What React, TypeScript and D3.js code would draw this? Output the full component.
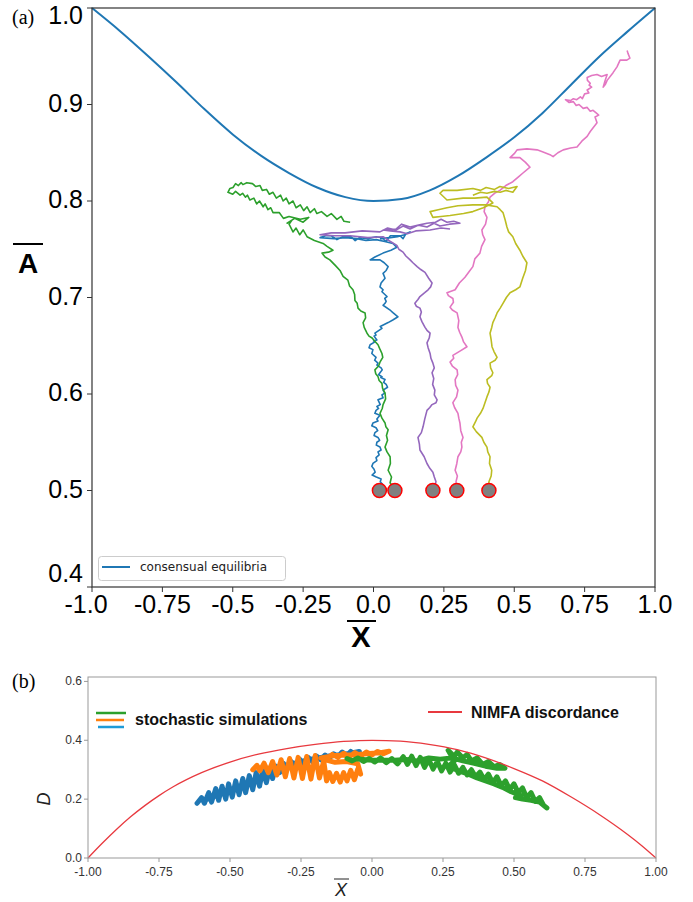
import React from "react";
import * as d3 from "d3";

// ---------- Panel (a) data ----------
const aXTicks = [-1, -0.75, -0.5, -0.25, 0, 0.25, 0.5, 0.75, 1];
const aXTickLabels = ["-1.0", "-0.75", "-0.5", "-0.25", "0.0", "0.25", "0.5", "0.75", "1.0"];
const aYTicks = [0.4, 0.5, 0.6, 0.7, 0.8, 0.9, 1.0];
const aYTickLabels = ["0.4", "0.5", "0.6", "0.7", "0.8", "0.9", "1.0"];

const consensusX = [-1, -0.9, -0.8, -0.7, -0.6, -0.5, -0.4, -0.3, -0.2, -0.1, 0, 0.1, 0.2, 0.3, 0.4, 0.5, 0.6, 0.7, 0.8, 0.9, 1];
const consensusA = [1.0, 0.976, 0.950, 0.923, 0.895, 0.869, 0.847, 0.829, 0.814, 0.804, 0.800, 0.802, 0.811, 0.826, 0.845, 0.866, 0.891, 0.920, 0.949, 0.975, 1.0];

const walkBlue: [number, number][] = [[0.021,0.500],[0.034,0.506],[0.024,0.509],[0.027,0.512],[0.010,0.514],[-0.005,0.516],[0.006,0.519],[0.002,0.522],[-0.006,0.525],[-0.002,0.528],[0.012,0.531],[0.009,0.534],[0.020,0.537],[0.016,0.540],[0.027,0.542],[0.023,0.545],[0.010,0.547],[0.012,0.550],[0.022,0.552],[0.016,0.555],[0.002,0.557],[0.005,0.560],[0.015,0.562],[0.009,0.565],[-0.006,0.567],[-0.002,0.570],[0.016,0.572],[0.012,0.574],[0.023,0.578],[0.005,0.580],[0.009,0.583],[0.018,0.585],[0.012,0.587],[0.024,0.589],[0.016,0.594],[0.034,0.596],[0.030,0.599],[0.040,0.601],[0.034,0.604],[0.050,0.607],[0.045,0.610],[0.036,0.612],[0.041,0.615],[0.026,0.617],[0.030,0.618],[0.018,0.620],[0.023,0.622],[0.031,0.625],[0.027,0.627],[0.012,0.630],[0.016,0.632],[0.004,0.635],[0.009,0.638],[-0.006,0.642],[-0.002,0.646],[-0.016,0.648],[-0.012,0.651],[0.005,0.654],[0.000,0.655],[0.012,0.656],[0.002,0.660],[0.009,0.661],[0.005,0.663],[0.030,0.668],[0.024,0.670],[0.052,0.674],[0.070,0.677],[0.087,0.680],[0.070,0.684],[0.066,0.685],[0.059,0.687],[0.034,0.692],[0.041,0.694],[0.045,0.696],[0.040,0.699],[0.048,0.701],[0.030,0.706],[0.034,0.708],[0.023,0.711],[0.027,0.715],[0.041,0.720],[0.034,0.725],[0.045,0.728],[0.052,0.732],[0.038,0.736],[0.023,0.739],[-0.012,0.739],[0.005,0.742],[0.034,0.746],[0.062,0.749],[0.083,0.752],[0.069,0.756],[0.040,0.758],[0.010,0.760],[-0.027,0.759],[-0.060,0.761],[-0.100,0.762],[-0.140,0.761],[-0.190,0.762],[-0.170,0.764],[-0.150,0.764],[-0.130,0.760],[-0.110,0.763],[-0.080,0.763],[-0.065,0.759],[-0.050,0.762],[-0.020,0.761],[0.010,0.763],[0.030,0.762],[0.045,0.758],[0.060,0.764],[0.094,0.764],[0.105,0.761],[0.115,0.766],[0.130,0.768],[0.110,0.765],[0.085,0.763],[0.060,0.762],[0.023,0.761]];

const walkGreen: [number, number][] = [[0.076,0.500],[0.059,0.508],[0.064,0.514],[0.052,0.521],[0.060,0.528],[0.059,0.535],[0.048,0.540],[0.041,0.545],[0.050,0.552],[0.046,0.557],[0.052,0.563],[0.044,0.566],[0.041,0.570],[0.030,0.575],[0.023,0.580],[0.031,0.585],[0.034,0.589],[0.043,0.595],[0.041,0.601],[0.032,0.606],[0.030,0.611],[0.020,0.614],[0.016,0.618],[0.008,0.621],[0.005,0.625],[0.018,0.629],[0.023,0.633],[0.033,0.638],[0.030,0.642],[0.022,0.647],[0.016,0.651],[0.004,0.655],[-0.005,0.658],[-0.016,0.660],[-0.023,0.663],[-0.033,0.669],[-0.037,0.674],[-0.028,0.679],[-0.030,0.684],[-0.045,0.686],[-0.055,0.689],[-0.058,0.694],[-0.066,0.697],[-0.067,0.703],[-0.073,0.708],[-0.085,0.712],[-0.091,0.718],[-0.108,0.722],[-0.119,0.728],[-0.135,0.733],[-0.155,0.739],[-0.172,0.742],[-0.183,0.746],[-0.160,0.747],[-0.144,0.749],[-0.165,0.753],[-0.179,0.756],[-0.210,0.759],[-0.236,0.763],[-0.250,0.770],[-0.262,0.765],[-0.275,0.772],[-0.286,0.768],[-0.300,0.776],[-0.290,0.780],[-0.307,0.777],[-0.280,0.782],[-0.250,0.778],[-0.230,0.783],[-0.260,0.781],[-0.300,0.784],[-0.320,0.782],[-0.335,0.788],[-0.357,0.788],[-0.365,0.793],[-0.375,0.791],[-0.385,0.797],[-0.392,0.794],[-0.405,0.800],[-0.415,0.797],[-0.425,0.803],[-0.439,0.801],[-0.448,0.806],[-0.455,0.804],[-0.465,0.808],[-0.474,0.806],[-0.490,0.810],[-0.500,0.807],[-0.517,0.809],[-0.510,0.813],[-0.499,0.814],[-0.490,0.818],[-0.480,0.816],[-0.470,0.819],[-0.464,0.817],[-0.450,0.819],[-0.430,0.818],[-0.418,0.815],[-0.403,0.816],[-0.395,0.811],[-0.380,0.812],[-0.370,0.807],[-0.357,0.809],[-0.345,0.803],[-0.330,0.806],[-0.321,0.800],[-0.310,0.803],[-0.300,0.797],[-0.286,0.800],[-0.275,0.793],[-0.260,0.796],[-0.248,0.790],[-0.236,0.794],[-0.225,0.788],[-0.210,0.792],[-0.201,0.787],[-0.185,0.789],[-0.165,0.784],[-0.150,0.787],[-0.130,0.781],[-0.115,0.784],[-0.105,0.779],[-0.083,0.778]];

const walkPurple: [number, number][] = [[0.211,0.500],[0.222,0.509],[0.216,0.514],[0.211,0.519],[0.200,0.523],[0.190,0.528],[0.180,0.535],[0.165,0.542],[0.163,0.548],[0.158,0.555],[0.170,0.560],[0.176,0.566],[0.182,0.574],[0.190,0.583],[0.200,0.586],[0.208,0.589],[0.222,0.591],[0.226,0.594],[0.216,0.599],[0.218,0.604],[0.210,0.610],[0.214,0.616],[0.208,0.622],[0.216,0.627],[0.211,0.632],[0.204,0.637],[0.201,0.642],[0.194,0.648],[0.190,0.653],[0.198,0.658],[0.201,0.663],[0.190,0.666],[0.183,0.669],[0.172,0.675],[0.165,0.680],[0.170,0.685],[0.165,0.689],[0.152,0.691],[0.147,0.694],[0.158,0.698],[0.165,0.701],[0.182,0.705],[0.194,0.708],[0.203,0.711],[0.208,0.715],[0.196,0.720],[0.183,0.726],[0.168,0.729],[0.155,0.732],[0.140,0.736],[0.130,0.739],[0.115,0.743],[0.105,0.747],[0.090,0.750],[0.083,0.754],[0.060,0.758],[0.034,0.763],[-0.020,0.762],[-0.083,0.764],[-0.140,0.764],[-0.190,0.765],[-0.150,0.767],[-0.101,0.767],[-0.040,0.769],[0.023,0.768],[0.050,0.772],[0.080,0.770],[0.105,0.774],[0.130,0.771],[0.160,0.775],[0.190,0.773],[0.215,0.777],[0.236,0.774],[0.270,0.776],[0.307,0.777],[0.285,0.779],[0.261,0.778],[0.240,0.781],[0.220,0.778],[0.190,0.777],[0.160,0.775],[0.130,0.773],[0.100,0.776],[0.080,0.771],[0.034,0.770],[0.060,0.769],[0.094,0.768],[0.120,0.766],[0.150,0.769],[0.201,0.770],[0.240,0.772],[0.272,0.771]];

const walkPink: [number, number][] = [[0.296,0.500],[0.293,0.509],[0.298,0.515],[0.290,0.521],[0.296,0.528],[0.300,0.535],[0.310,0.540],[0.314,0.545],[0.312,0.550],[0.318,0.555],[0.310,0.562],[0.307,0.570],[0.303,0.575],[0.300,0.580],[0.288,0.586],[0.282,0.591],[0.295,0.597],[0.300,0.604],[0.292,0.609],[0.290,0.615],[0.299,0.620],[0.297,0.625],[0.280,0.629],[0.272,0.633],[0.285,0.637],[0.282,0.640],[0.310,0.645],[0.332,0.649],[0.320,0.654],[0.314,0.659],[0.306,0.664],[0.300,0.669],[0.303,0.676],[0.297,0.684],[0.280,0.687],[0.272,0.690],[0.284,0.695],[0.282,0.699],[0.266,0.702],[0.261,0.705],[0.290,0.708],[0.305,0.715],[0.325,0.721],[0.340,0.727],[0.353,0.732],[0.360,0.740],[0.378,0.746],[0.384,0.753],[0.396,0.760],[0.388,0.765],[0.385,0.770],[0.398,0.776],[0.403,0.783],[0.393,0.789],[0.396,0.794],[0.408,0.799],[0.414,0.804],[0.430,0.808],[0.449,0.811],[0.470,0.816],[0.495,0.820],[0.515,0.825],[0.531,0.829],[0.556,0.835],[0.540,0.840],[0.520,0.845],[0.485,0.845],[0.500,0.849],[0.510,0.853],[0.545,0.854],[0.581,0.853],[0.600,0.851],[0.627,0.848],[0.638,0.846],[0.655,0.850],[0.674,0.853],[0.700,0.855],[0.723,0.856],[0.740,0.862],[0.759,0.867],[0.770,0.872],[0.794,0.881],[0.787,0.887],[0.800,0.889],[0.792,0.891],[0.780,0.894],[0.770,0.893],[0.759,0.897],[0.745,0.896],[0.730,0.900],[0.720,0.899],[0.710,0.903],[0.695,0.902],[0.682,0.905],[0.700,0.904],[0.710,0.906],[0.722,0.905],[0.735,0.908],[0.742,0.906],[0.750,0.911],[0.765,0.912],[0.759,0.915],[0.775,0.918],[0.766,0.920],[0.770,0.922],[0.760,0.925],[0.759,0.928],[0.775,0.930],[0.794,0.931],[0.810,0.929],[0.830,0.931],[0.822,0.924],[0.816,0.918],[0.824,0.921],[0.830,0.925],[0.851,0.933],[0.865,0.939],[0.876,0.946],[0.900,0.946],[0.911,0.948],[0.904,0.953],[0.901,0.956]];

const walkOlive: [number, number][] = [[0.410,0.500],[0.410,0.509],[0.418,0.515],[0.420,0.521],[0.412,0.528],[0.414,0.535],[0.406,0.540],[0.403,0.545],[0.392,0.550],[0.385,0.555],[0.365,0.561],[0.353,0.566],[0.362,0.571],[0.368,0.575],[0.380,0.580],[0.389,0.585],[0.396,0.591],[0.403,0.597],[0.410,0.602],[0.414,0.607],[0.405,0.611],[0.403,0.615],[0.420,0.619],[0.424,0.622],[0.416,0.627],[0.414,0.632],[0.432,0.635],[0.439,0.638],[0.428,0.644],[0.421,0.649],[0.418,0.656],[0.414,0.663],[0.420,0.669],[0.424,0.674],[0.432,0.679],[0.439,0.684],[0.450,0.689],[0.460,0.694],[0.472,0.700],[0.485,0.705],[0.505,0.708],[0.520,0.711],[0.530,0.720],[0.540,0.728],[0.545,0.736],[0.530,0.743],[0.520,0.749],[0.505,0.756],[0.495,0.763],[0.480,0.768],[0.474,0.773],[0.468,0.780],[0.460,0.788],[0.450,0.791],[0.439,0.794],[0.400,0.796],[0.353,0.796],[0.300,0.795],[0.261,0.793],[0.230,0.791],[0.201,0.789],[0.211,0.783],[0.240,0.784],[0.272,0.785],[0.320,0.787],[0.353,0.789],[0.390,0.793],[0.424,0.798],[0.403,0.804],[0.360,0.803],[0.318,0.803],[0.261,0.801],[0.236,0.808],[0.247,0.811],[0.297,0.811],[0.353,0.813],[0.380,0.811],[0.400,0.814],[0.430,0.812],[0.449,0.815],[0.480,0.813],[0.510,0.815],[0.495,0.809],[0.470,0.811],[0.450,0.809],[0.430,0.810],[0.403,0.808],[0.380,0.809],[0.353,0.806]];

const walksA = [
  { name: "blue", color: "#1f77b4", pts: walkBlue },
  { name: "green", color: "#2ca02c", pts: walkGreen },
  { name: "purple", color: "#9467bd", pts: walkPurple },
  { name: "pink", color: "#e377c2", pts: walkPink },
  { name: "olive", color: "#bcbd22", pts: walkOlive },
];

// ---------- Panel (b) data ----------
const bXTicks = [-1, -0.75, -0.5, -0.25, 0, 0.25, 0.5, 0.75, 1];
const bXTickLabels = ["-1.00", "-0.75", "-0.50", "-0.25", "0.00", "0.25", "0.50", "0.75", "1.00"];
const bYTicks = [0, 0.2, 0.4, 0.6];
const bYTickLabels = ["0.0", "0.2", "0.4", "0.6"];

const nimfaX = [-1, -0.95, -0.9, -0.85, -0.8, -0.75, -0.7, -0.6, -0.5, -0.4, -0.3, -0.2, -0.1, 0, 0.1, 0.2, 0.3, 0.4, 0.5, 0.6, 0.7, 0.8, 0.9, 0.95, 1];
const nimfaD = [0, 0.050, 0.097, 0.140, 0.178, 0.212, 0.242, 0.290, 0.326, 0.353, 0.372, 0.386, 0.396, 0.400, 0.397, 0.386, 0.368, 0.340, 0.304, 0.262, 0.208, 0.148, 0.080, 0.042, 0];

const stochBlue: [number, number][] = [[-0.616,0.186],[-0.600,0.205],[-0.590,0.186],[-0.575,0.222],[-0.565,0.190],[-0.550,0.236],[-0.540,0.196],[-0.528,0.244],[-0.515,0.200],[-0.505,0.252],[-0.492,0.207],[-0.480,0.262],[-0.468,0.215],[-0.455,0.270],[-0.445,0.222],[-0.432,0.280],[-0.420,0.232],[-0.408,0.290],[-0.396,0.244],[-0.385,0.298],[-0.372,0.256],[-0.360,0.306],[-0.350,0.270],[-0.338,0.312],[-0.325,0.290],[-0.312,0.322],[-0.300,0.300],[-0.285,0.328],[-0.270,0.312],[-0.255,0.336],[-0.240,0.320],[-0.225,0.342],[-0.210,0.328],[-0.195,0.346],[-0.180,0.334],[-0.165,0.350],[-0.150,0.340],[-0.135,0.354],[-0.120,0.344],[-0.105,0.360],[-0.090,0.348],[-0.075,0.362],[-0.060,0.350],[-0.045,0.362],[-0.080,0.355],[-0.150,0.347],[-0.220,0.335],[-0.300,0.315],[-0.360,0.290],[-0.420,0.262],[-0.480,0.238],[-0.540,0.214],[-0.590,0.196]];

const stochOrange: [number, number][] = [[-0.420,0.300],[-0.405,0.315],[-0.395,0.296],[-0.380,0.322],[-0.365,0.290],[-0.350,0.328],[-0.335,0.282],[-0.320,0.334],[-0.305,0.276],[-0.290,0.338],[-0.275,0.272],[-0.260,0.342],[-0.245,0.270],[-0.230,0.345],[-0.215,0.268],[-0.200,0.348],[-0.185,0.272],[-0.170,0.330],[-0.160,0.262],[-0.150,0.290],[-0.138,0.260],[-0.125,0.288],[-0.112,0.258],[-0.100,0.290],[-0.088,0.262],[-0.075,0.298],[-0.062,0.266],[-0.050,0.302],[-0.040,0.285],[-0.050,0.320],[-0.090,0.328],[-0.130,0.325],[-0.170,0.335],[-0.150,0.345],[-0.140,0.352],[-0.120,0.342],[-0.100,0.356],[-0.080,0.344],[-0.060,0.358],[-0.040,0.346],[-0.020,0.360],[0.000,0.350],[0.020,0.362],[0.040,0.354],[0.060,0.363],[0.030,0.358],[-0.010,0.355],[-0.050,0.352],[-0.090,0.350],[-0.130,0.348],[-0.180,0.340]];

const stochGreen: [number, number][] = [[-0.088,0.338],[-0.070,0.330],[-0.050,0.340],[-0.030,0.328],[-0.010,0.338],[0.010,0.326],[0.030,0.340],[0.050,0.324],[0.070,0.338],[0.090,0.320],[0.110,0.344],[0.125,0.318],[0.140,0.346],[0.155,0.314],[0.170,0.342],[0.185,0.308],[0.200,0.335],[0.215,0.302],[0.230,0.328],[0.245,0.296],[0.260,0.322],[0.275,0.292],[0.290,0.316],[0.305,0.288],[0.320,0.308],[0.335,0.282],[0.350,0.300],[0.365,0.276],[0.380,0.292],[0.395,0.266],[0.410,0.285],[0.425,0.255],[0.440,0.276],[0.455,0.245],[0.470,0.262],[0.485,0.232],[0.500,0.252],[0.515,0.222],[0.530,0.238],[0.545,0.205],[0.560,0.222],[0.575,0.192],[0.590,0.205],[0.605,0.178],[0.616,0.170],[0.590,0.190],[0.560,0.196],[0.530,0.200],[0.505,0.205],[0.525,0.212],[0.490,0.225],[0.460,0.240],[0.430,0.252],[0.400,0.262],[0.370,0.272],[0.340,0.285],[0.300,0.298],[0.270,0.312],[0.290,0.330],[0.268,0.366],[0.290,0.345],[0.300,0.360],[0.320,0.340],[0.335,0.352],[0.350,0.330],[0.370,0.340],[0.390,0.318],[0.410,0.328],[0.430,0.310],[0.450,0.318],[0.468,0.305],[0.440,0.305],[0.400,0.312],[0.360,0.322],[0.320,0.330],[0.280,0.340],[0.240,0.336],[0.200,0.340],[0.160,0.330],[0.120,0.335],[0.080,0.332],[0.040,0.333],[0.000,0.332],[-0.050,0.336]];

const stochWalks = [
  { color: "#1f77b4", pts: stochBlue },
  { color: "#ff7f0e", pts: stochOrange },
  { color: "#2ca02c", pts: stochGreen },
];

const SANS = "'Liberation Sans', Arial, sans-serif";

export default function App() {
  // Panel (a) scales
  const ax = d3.scaleLinear().domain([-1, 1]).range([92, 655]);
  const ay = d3.scaleLinear().domain([0.4, 1.0]).range([587, 8]);
  const aLine = d3.line<[number, number]>().x((d) => ax(d[0])).y((d) => ay(d[1]));
  const consensusPts: [number, number][] = consensusX.map((x, i) => [x, consensusA[i]]);
  const consensusPath = d3
    .line<[number, number]>()
    .x((d) => ax(d[0]))
    .y((d) => ay(d[1]))
    .curve(d3.curveMonotoneX)(consensusPts);

  // y tick label nudges (top and bottom labels sit inside the frame as in the reference)
  const aYLabelShift = (t: number) => (t === 1.0 ? 7 : t === 0.4 ? -14 : -2);

  // Panel (b) scales
  const bx = d3.scaleLinear().domain([-1, 1]).range([88, 656]);
  const by = d3.scaleLinear().domain([0, 0.615]).range([858, 677]);
  const bLine = d3.line<[number, number]>().x((d) => bx(d[0])).y((d) => by(d[1]));
  const nimfaPts: [number, number][] = nimfaX.map((x, i) => [x, nimfaD[i]]);
  const nimfaPath = d3
    .line<[number, number]>()
    .x((d) => bx(d[0]))
    .y((d) => by(d[1]))
    .curve(d3.curveMonotoneX)(nimfaPts);

  return (
    <svg width={693} height={902} style={{ display: "block", position: "absolute", left: 0, top: 0, background: "#fff" }}>
      <rect x={0} y={0} width={693} height={902} fill="#fff" />
      {/* ---------- Panel (a) ---------- */}
      <text x={12} y={24} fontFamily="'Liberation Serif', 'Times New Roman', serif" fontSize={20}>(a)</text>
      <g>
        {walksA.map((w) => (
          <path key={w.name} d={aLine(w.pts) || ""} fill="none" stroke={w.color} strokeWidth={1.6} strokeLinejoin="round" />
        ))}
        <path d={consensusPath || ""} fill="none" stroke="#1f77b4" strokeWidth={2} />
        {walksA.map((w) => (
          <circle key={"c" + w.name} cx={ax(w.pts[0][0])} cy={ay(w.pts[0][1])} r={7} fill="#808080" stroke="#ff0000" strokeWidth={1.5} />
        ))}
      </g>
      {/* frame */}
      <rect x={92} y={8} width={563} height={579} fill="none" stroke="#333" strokeWidth={1.2} />
      {/* y ticks */}
      {aYTicks.map((t, i) => (
        <g key={"ay" + i}>
          <line x1={87} x2={92} y1={ay(t)} y2={ay(t)} stroke="#333" strokeWidth={1} />
          <text x={83} y={ay(t) + aYLabelShift(t)} textAnchor="end" dominantBaseline="central" fontFamily={SANS} fontSize={25} fill="#000">
            {aYTickLabels[i]}
          </text>
        </g>
      ))}
      {/* x ticks */}
      {aXTicks.map((t, i) => (
        <g key={"ax" + i}>
          <line x1={ax(t)} x2={ax(t)} y1={587} y2={592} stroke="#333" strokeWidth={1} />
          <text x={ax(t) - (t === -1 ? 6 : 0)} y={613} textAnchor="middle" fontFamily={SANS} fontSize={25} fill="#000">
            {aXTickLabels[i]}
          </text>
        </g>
      ))}
      {/* axis labels */}
      <text x={361} y={647} textAnchor="middle" fontFamily={SANS} fontWeight="bold" fontSize={29}>X</text>
      <line x1={347} x2={376} y1={621} y2={621} stroke="#000" strokeWidth={2} />
      <text x={28} y={273} textAnchor="middle" fontFamily={SANS} fontWeight="bold" fontSize={28}>A</text>
      <line x1={13} x2={43} y1={244} y2={244} stroke="#000" strokeWidth={2} />
      {/* legend (a) */}
      <rect x={98.5} y={556.5} width={187} height={24} rx={3} fill="#fff" stroke="#ccc" strokeWidth={1} />
      <line x1={102} x2={130} y1={567} y2={567} stroke="#1f77b4" strokeWidth={2} />
      <text x={140} y={571} fontFamily="'DejaVu Sans', sans-serif" fontSize={12} fill="#222">consensual equilibria</text>

      {/* ---------- Panel (b) ---------- */}
      <text x={12} y={688} fontFamily="'Liberation Serif', 'Times New Roman', serif" fontSize={20}>(b)</text>
      <g>
        {stochWalks.map((w, i) => (
          <path key={"s" + i} d={bLine(w.pts) || ""} fill="none" stroke={w.color} strokeWidth={5} strokeLinejoin="round" strokeLinecap="round" />
        ))}
        <path d={nimfaPath || ""} fill="none" stroke="#e8393f" strokeWidth={1.3} />
      </g>
      <rect x={88} y={677} width={568} height={181} fill="none" stroke="#999" strokeWidth={1} />
      {bYTicks.map((t, i) => (
        <g key={"by" + i}>
          <line x1={84} x2={88} y1={by(t)} y2={by(t)} stroke="#999" strokeWidth={1} />
          <text x={82} y={by(t)} textAnchor="end" dominantBaseline="central" fontFamily={SANS} fontSize={12} fill="#333">
            {bYTickLabels[i]}
          </text>
        </g>
      ))}
      {bXTicks.map((t, i) => (
        <g key={"bx" + i}>
          <line x1={bx(t)} x2={bx(t)} y1={858} y2={862} stroke="#999" strokeWidth={1} />
          <text x={bx(t)} y={876} textAnchor="middle" fontFamily={SANS} fontSize={12} fill="#333">
            {bXTickLabels[i]}
          </text>
        </g>
      ))}
      <text x={341} y={896} textAnchor="middle" fontFamily={SANS} fontStyle="italic" fontSize={18} fill="#222">X</text>
      <line x1={334} x2={349} y1={879} y2={879} stroke="#222" strokeWidth={1} />
      <text transform="translate(50,799) rotate(-90)" textAnchor="middle" fontFamily={SANS} fontStyle="italic" fontSize={18} fill="#222">D</text>
      {/* legend (b) */}
      <line x1={96} x2={126} y1={713} y2={713} stroke="#2ca02c" strokeWidth={2.5} />
      <line x1={96} x2={124} y1={720} y2={720} stroke="#ff7f0e" strokeWidth={2.5} />
      <line x1={98} x2={124} y1={727} y2={727} stroke="#1f9bd7" strokeWidth={2.5} />
      <text x={135} y={725} fontFamily={SANS} fontWeight="bold" fontSize={16} fill="#111">stochastic simulations</text>
      <line x1={428} x2={462} y1={712} y2={712} stroke="#e8393f" strokeWidth={2} />
      <text x={471} y={718} fontFamily={SANS} fontWeight="bold" fontSize={16} fill="#111">NIMFA discordance</text>
    </svg>
  );
}
